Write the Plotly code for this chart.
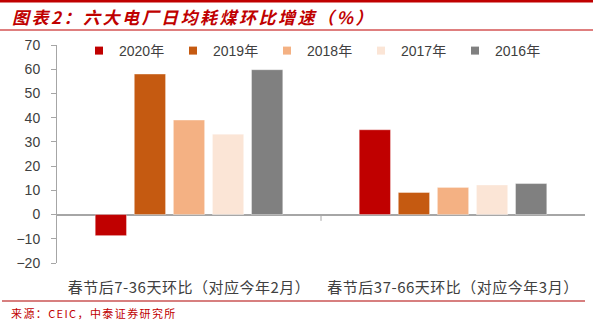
import plotly.graph_objects as go

# Data: daily coal consumption growth (%) of six major power plants
categories = ["春节后7-36天环比（对应今年2月）", "春节后37-66天环比（对应今年3月）"]
years = ["2020年", "2019年", "2018年", "2017年", "2016年"]
values = {
    "2020年": [-8.7, 35.0],
    "2019年": [58.0, 9.1],
    "2018年": [39.0, 11.2],
    "2017年": [33.2, 12.2],
    "2016年": [59.8, 12.8],
}
colors = {
    "2020年": "#C00000",
    "2019年": "#C55A11",
    "2018年": "#F4B183",
    "2017年": "#FBE5D6",
    "2016年": "#808080",
}

W, H = 593, 327
ML, MR, MT, MB = 57, 8, 45, 64
plot_h = H - MT - MB


def py(px):
    """Convert a pixel row (from top) to paper y."""
    return (H - MB - px) / plot_h


def pxx(px):
    """Convert a pixel column to paper x."""
    return (px - ML) / (W - ML - MR)


def spaced(text, px):
    return f'<span style="letter-spacing:{px}px">{text}</span>'


fig = go.Figure()

for yr in years:
    fig.add_trace(go.Bar(
        x=categories, y=values[yr], name=yr,
        marker=dict(color=colors[yr], line=dict(color="rgba(255,255,255,0.6)", width=0.6)),
        showlegend=False,
    ))
    # small square legend swatch
    fig.add_trace(go.Scatter(
        x=[None], y=[None], mode="markers", name=yr,
        marker=dict(symbol="square", size=8, color=colors[yr]),
        showlegend=True,
    ))

red = "#C00000"
shapes = [
    dict(type="line", xref="paper", yref="paper", x0=pxx(0), x1=pxx(W), y0=py(1), y1=py(1),
         line=dict(color=red, width=3)),
    dict(type="line", xref="paper", yref="paper", x0=pxx(0), x1=pxx(W), y0=py(30), y1=py(30),
         line=dict(color=red, width=1.2)),
    dict(type="line", xref="paper", yref="paper", x0=pxx(2), x1=pxx(585), y0=py(301), y1=py(301),
         line=dict(color="#B00000", width=1.2)),
    # category boundary tick on the zero line
    dict(type="line", xref="x", yref="y", x0=0.5, x1=0.5, y0=0, y1=-2.6,
         line=dict(color="#A6A6A6", width=1)),
]

fig.update_layout(
    width=W, height=H,
    margin=dict(l=ML, r=MR, t=MT, b=MB),
    paper_bgcolor="white", plot_bgcolor="white",
    barmode="group", bargap=0.26, bargroupgap=0.2,
    font=dict(family="Arial, Liberation Sans, Noto Sans CJK SC", color="#404040", size=14),
    title=dict(
        text=spaced("图表2：六大电厂日均耗煤环比增速（%）", 2.5),
        xref="container", yref="container", x=12 / W, y=1 - 18 / H,
        xanchor="left", yanchor="middle",
        font=dict(family="Noto Sans CJK SC", size=17, color=red, weight=700, style="italic"),
    ),
    legend=dict(
        orientation="h", x=pxx(79), y=py(51), xanchor="left", yanchor="middle",
        entrywidth=49, entrywidthmode="pixels",
        font=dict(family="Arial, Liberation Sans, Noto Sans CJK SC", size=14, color="#404040"),
        bgcolor="rgba(0,0,0,0)", itemwidth=30, tracegroupgap=0,
    ),
    xaxis=dict(
        showline=False, ticks="", showgrid=False,
        tickmode="array", tickvals=categories,
        ticktext=[spaced(c, 0.5) for c in categories],
        tickfont=dict(family="Noto Sans CJK SC", size=15, color="#404040"),
        ticklabelstandoff=14,
    ),
    yaxis=dict(
        range=[-20, 70], dtick=10, showgrid=False,
        showline=True, linecolor="#A6A6A6", linewidth=1,
        ticks="outside", ticklen=5, tickcolor="#A6A6A6",
        zeroline=True, zerolinecolor="#A6A6A6", zerolinewidth=1.5,
        tickfont=dict(family="Arial, Liberation Sans", size=14, color="#404040"),
        ticklabelstandoff=8,
    ),
    shapes=shapes,
    annotations=[dict(
        text=spaced("来源：CEIC，中泰证券研究所", 1.4), xref="paper", yref="paper",
        x=pxx(9), y=py(313), xanchor="left", yanchor="middle", showarrow=False,
        font=dict(family="Noto Sans CJK SC", size=11, color=red),
    )],
)

fig.write_html("out.html")
